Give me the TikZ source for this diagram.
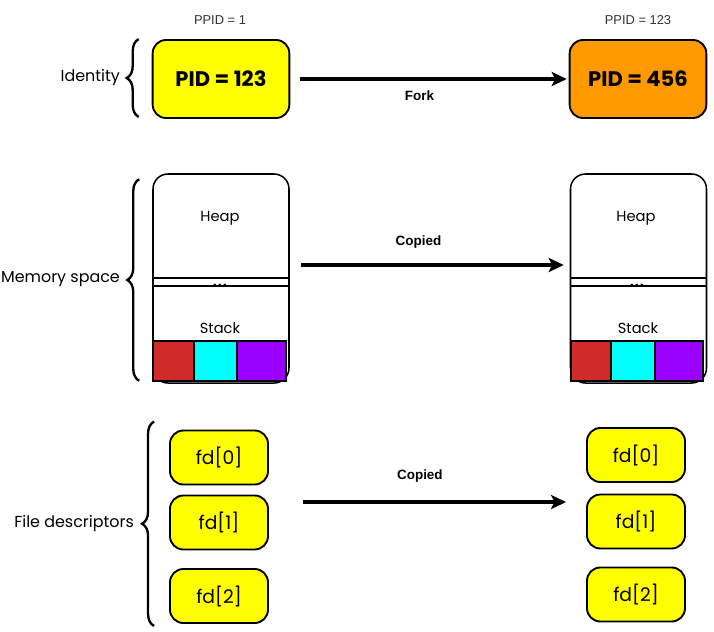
\documentclass[tikz,border=0pt]{standalone}
\usepackage{fontspec}
\setmainfont{Poppins}
\newfontfamily\helv{Liberation Sans}
\usepackage{xcolor}
\usetikzlibrary{positioning,calc,decorations.pathreplacing,arrows.meta}
\definecolor{pidyellow}{RGB}{255,255,0}
\definecolor{childorange}{RGB}{255,153,0}
\definecolor{stackred}{RGB}{209,42,42}
\definecolor{stackcyan}{RGB}{0,255,255}
\definecolor{stackpurple}{RGB}{153,0,255}

\begin{document}
\begin{tikzpicture}[x=0.03cm, y=-0.03cm,
    pid/.style={rectangle, rounded corners=0.4cm, draw=black, line width=1.6pt, minimum width=4.1cm, minimum height=2.34cm, font=\fontsize{18}{20}\selectfont\bfseries},
    mem/.style={rectangle, rounded corners=0.45cm, draw=black, line width=1.3pt, minimum width=4.08cm, minimum height=6.27cm},
    slot/.style={rectangle, draw=black, line width=1.6pt, minimum height=1.2cm},
    fd/.style={rectangle, rounded corners=0.4cm, draw=black, fill=pidyellow, line width=1.6pt, minimum width=2.94cm, minimum height=1.62cm, font=\fontsize{16}{18}\selectfont},
    area/.style={font=\fontsize{12.5}{14}\selectfont},
    gap/.style={font=\fontsize{11}{11}\selectfont\bfseries, anchor=base},
    side/.style={font=\fontsize{13.6}{16}\selectfont, anchor=east},
    ppid/.style={font=\helv\fontsize{11}{13}\selectfont, text=black!80},
    tag/.style={font=\helv\fontsize{11.5}{13}\selectfont\bfseries},
    arrow/.style={-{Stealth[length=0.45cm, width=0.42cm, inset=0.1cm]}, line width=2.6pt},
    curly/.style={decorate, decoration={brace, amplitude=0.36cm}, line width=2pt}
]
\useasboundingbox (0,0) rectangle (714,631);

% Identity
\node[pid, fill=pidyellow] (parent) at (221,79) {PID = 123};
\node[pid, fill=childorange] (child) at (638,79) {PID = 456};
\node[ppid] (ppidL) at (220,20) {PPID = 1};
\node[ppid] (ppidR) at (638,20) {PPID = 123};

% Memory
\node[mem] (memL) at (221,278.5) {};
\node[mem] (memR) at (638.5,278.5) {};
\node[area] (heapL) at (220,218) {Heap};
\node[area] (heapR) at (636,218) {Heap};
\draw[line width=1.3pt] ($(memL.north west)+(0,105)$) -- ($(memL.north east)+(0,105)$);
\draw[line width=1.3pt] ($(memL.north west)+(0,113)$) -- ($(memL.north east)+(0,113)$);
\draw[line width=1.3pt] ($(memR.north west)+(0,105)$) -- ($(memR.north east)+(0,105)$);
\draw[line width=1.3pt] ($(memR.north west)+(0,113)$) -- ($(memR.north east)+(0,113)$);
\node[gap] (gapL) at (220,286) {.\hspace{1.2pt}.\hspace{1.2pt}.};
\node[gap] (gapR) at (637,286) {.\hspace{1.2pt}.\hspace{1.2pt}.};
\node[area] (stackL) at (220,328) {Stack};
\node[area] (stackR) at (638,328) {Stack};

% Stack slots
\node[slot, fill=stackred, minimum width=1.23cm] (redL) at (173.5,361) {};
\node[slot, fill=stackcyan, minimum width=1.29cm] (cyanL) at (215.5,361) {};
\node[slot, fill=stackpurple, minimum width=1.47cm] (purpleL) at (261.5,361) {};
\node[slot, fill=stackred, minimum width=1.2cm] (redR) at (591,361) {};
\node[slot, fill=stackcyan, minimum width=1.32cm] (cyanR) at (633,361) {};
\node[slot, fill=stackpurple, minimum width=1.44cm] (purpleR) at (679,361) {};

% File descriptors
\node[fd] (fdL0) at (219,457.5) {fd[0]};
\node[fd] (fdL1) at (219,522.5) {fd[1]};
\node[fd] (fdL2) at (219,596) {fd[2]};
\node[fd] (fdR0) at (636,455) {fd[0]};
\node[fd] (fdR1) at (636,521.5) {fd[1]};
\node[fd] (fdR2) at (636,594.5) {fd[2]};

% Side labels and braces
\node[side] (idLab) at (124,77) {Identity};
\node[side] (memLab) at (124,279) {Memory space};
\node[side] (fdLab) at (138,523) {File descriptors};
\draw[curly] ($(parent.south west)+(-13,-2)$) -- ($(parent.north west)+(-13,0)$);
\draw[curly] ($(memL.south west)+(-13,-3)$) -- ($(memL.north west)+(-13,6)$);
\draw[curly] ($(fdL2.south west)+(-15,2)$) -- ($(fdL0.north west)+(-15,-8)$);

% Arrows
\draw[arrow, shorten <=0.3cm, shorten >=0.06cm] (parent) -- (child)
    node[tag, pos=0.464, yshift=-0.51cm] {Fork};
\coordinate (memgo) at ($(memL.east)+(0,-13.5)$);
\draw[arrow, shorten <=0.33cm, shorten >=0.18cm] (memgo) -- (memgo -| memR.west)
    node[tag, pos=0.46, yshift=0.69cm] {Copied};
\coordinate (fdgo) at ($(fdL1.east)+(0,-20.5)$);
\draw[arrow, shorten <=1.02cm, shorten >=0.6cm] (fdgo) -- (fdgo -| fdR1.west)
    node[tag, pos=0.476, yshift=0.78cm] {Copied};

\end{tikzpicture}
\end{document}
